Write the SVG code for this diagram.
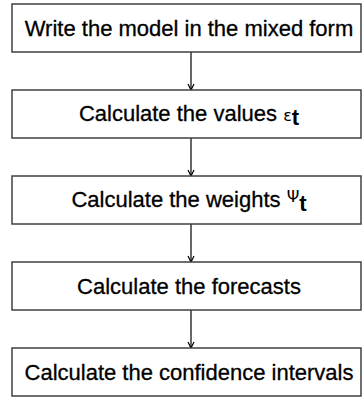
<svg xmlns="http://www.w3.org/2000/svg" width="362" height="399" viewBox="0 0 362 399">
<style>
.box{fill:#fff;stroke:#404040;stroke-width:1.5}
.lbl{font-family:"Liberation Sans",Arial,sans-serif;font-size:22px;fill:#000;stroke:#000;stroke-width:0.3;text-anchor:middle}
.conn{stroke:#000;stroke-width:1.2;fill:none}
.sym{font-family:"DejaVu Sans",sans-serif;font-size:16px;stroke-width:0}
.sub{font-weight:bold;font-size:22px;stroke-width:0}
</style>
<defs>
<marker id="ah" markerWidth="10" markerHeight="10" refX="9" refY="5" orient="auto" markerUnits="userSpaceOnUse" viewBox="0 0 10 10">
<path d="M3,2 L9,5 L3,8" fill="none" stroke="#000" stroke-width="1.2"/>
</marker>
</defs>
<rect width="362" height="399" fill="#fff"/>
<g id="connectors">
<line class="conn" x1="191" y1="52" x2="191" y2="90" marker-end="url(#ah)"/>
<line class="conn" x1="191" y1="138" x2="191" y2="176" marker-end="url(#ah)"/>
<line class="conn" x1="191" y1="224" x2="191" y2="262" marker-end="url(#ah)"/>
<line class="conn" x1="191" y1="310" x2="191" y2="348" marker-end="url(#ah)"/>
</g>
<g id="n1">
<rect class="box" x="12" y="4" width="349" height="48"/>
<text class="lbl" x="189" y="36">Write the model in the mixed form</text>
</g>
<g id="n2">
<rect class="box" x="12" y="90" width="349" height="48"/>
<text class="lbl" x="189" y="121">Calculate the values <tspan class="sym">ε</tspan><tspan class="sub" dy="4">t</tspan></text>
</g>
<g id="n3">
<rect class="box" x="12" y="176" width="349" height="48"/>
<text class="lbl" x="189" y="207">Calculate the weights <tspan class="sym" dy="-5">Ψ</tspan><tspan class="sub" dy="9">t</tspan></text>
</g>
<g id="n4">
<rect class="box" x="12" y="262" width="349" height="48"/>
<text class="lbl" x="189" y="294">Calculate the forecasts</text>
</g>
<g id="n5">
<rect class="box" x="12" y="348" width="349" height="48"/>
<text class="lbl" x="189" y="380">Calculate the confidence intervals</text>
</g>
</svg>
